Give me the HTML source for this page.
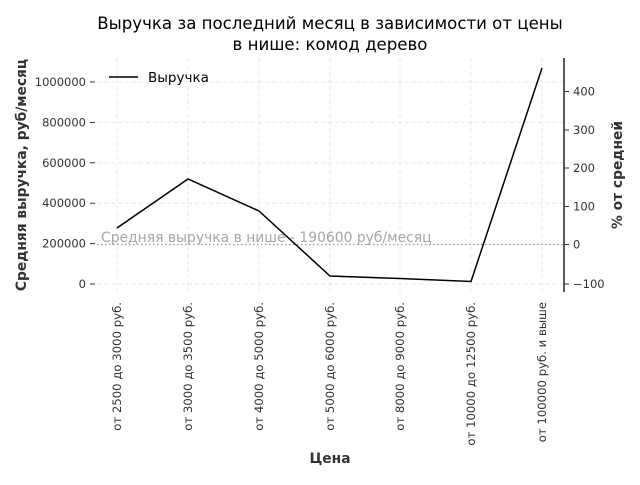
<!DOCTYPE html>
<html><head><meta charset="utf-8"><style>html,body{margin:0;padding:0;background:#fff}</style></head>
<body>
<svg width="640" height="480" xmlns="http://www.w3.org/2000/svg" font-family="DejaVu Sans, sans-serif">
<rect width="640" height="480" fill="#fff"/>
<text x="330" y="29" font-size="16.6" text-anchor="middle" fill="#000">Выручка за последний месяц в зависимости от цены</text>
<text x="330" y="50" font-size="16.6" text-anchor="middle" fill="#000">в нише: комод дерево</text>
<g stroke="#e3e3e3" stroke-width="0.8" stroke-dasharray="4,3">
<line x1="97" x2="564" y1="82" y2="82"/><line x1="97" x2="564" y1="122.4" y2="122.4"/><line x1="97" x2="564" y1="162.8" y2="162.8"/><line x1="97" x2="564" y1="203.2" y2="203.2"/><line x1="97" x2="564" y1="284" y2="284"/>
<line x1="117" x2="117" y1="58" y2="292"/><line x1="188" x2="188" y1="58" y2="292"/><line x1="259" x2="259" y1="58" y2="292"/><line x1="330" x2="330" y1="58" y2="292"/><line x1="400" x2="400" y1="58" y2="292"/><line x1="471" x2="471" y1="58" y2="292"/><line x1="542" x2="542" y1="58" y2="292"/>
</g>
<line x1="97" x2="564" y1="244.5" y2="244.5" stroke="#999" stroke-width="1.3" stroke-dasharray="1.5,2.5"/>
<text x="101" y="242" font-size="13.9" fill="#a6a6a6">Средняя выручка в нише - 190600 руб/месяц</text>
<polyline fill="none" stroke="#000" stroke-width="1.5" points="117,228 188,179 259,211 330,276 400,278.5 471,281.5 542,68"/>
<g stroke="#333" stroke-width="1"><line x1="90" x2="95" y1="82" y2="82"/><line x1="90" x2="95" y1="122.4" y2="122.4"/><line x1="90" x2="95" y1="162.8" y2="162.8"/><line x1="90" x2="95" y1="203.2" y2="203.2"/><line x1="90" x2="95" y1="243.6" y2="243.6"/><line x1="90" x2="95" y1="284" y2="284"/>
<line x1="564" x2="564" y1="58" y2="292" stroke="#000" stroke-width="1.3"/>
<line x1="564" x2="569" y1="91.5" y2="91.5"/><line x1="564" x2="569" y1="130" y2="130"/><line x1="564" x2="569" y1="168" y2="168"/><line x1="564" x2="569" y1="206.5" y2="206.5"/><line x1="564" x2="569" y1="244.5" y2="244.5"/><line x1="564" x2="569" y1="284" y2="284"/>
</g>
<g font-size="11.5" fill="#333" text-anchor="end"><text x="86" y="86">1000000</text><text x="86" y="126.4">800000</text><text x="86" y="166.8">600000</text><text x="86" y="207.2">400000</text><text x="86" y="247.6">200000</text><text x="86" y="288">0</text></g>
<g font-size="11.5" fill="#333"><text x="573" y="95.5">400</text><text x="573" y="134">300</text><text x="573" y="172">200</text><text x="573" y="210.5">100</text><text x="573" y="248.5">0</text><text x="573" y="288">−100</text></g>
<line x1="109" x2="138" y1="77" y2="77" stroke="#000" stroke-width="1.5"/>
<text x="148" y="82" font-size="13.5" fill="#000">Выручка</text>
<text transform="translate(26,175) rotate(-90)" font-size="13.8" font-weight="bold" fill="#333" text-anchor="middle">Средняя выручка, руб/месяц</text>
<text transform="translate(622,175) rotate(-90)" font-size="13.8" font-weight="bold" fill="#333" text-anchor="middle">% от средней</text>
<g font-size="11.7" fill="#333" text-anchor="end">
<text transform="translate(121,302) rotate(-90)">от 2500 до 3000 руб.</text>
<text transform="translate(192,302) rotate(-90)">от 3000 до 3500 руб.</text>
<text transform="translate(263,302) rotate(-90)">от 4000 до 5000 руб.</text>
<text transform="translate(334,302) rotate(-90)">от 5000 до 6000 руб.</text>
<text transform="translate(404,302) rotate(-90)">от 8000 до 9000 руб.</text>
<text transform="translate(475,302) rotate(-90)">от 10000 до 12500 руб.</text>
<text transform="translate(546,302) rotate(-90)">от 100000 руб. и выше</text>
</g>
<text x="330" y="463" font-size="13.8" font-weight="bold" fill="#333" text-anchor="middle">Цена</text>
</svg>
</body></html>
